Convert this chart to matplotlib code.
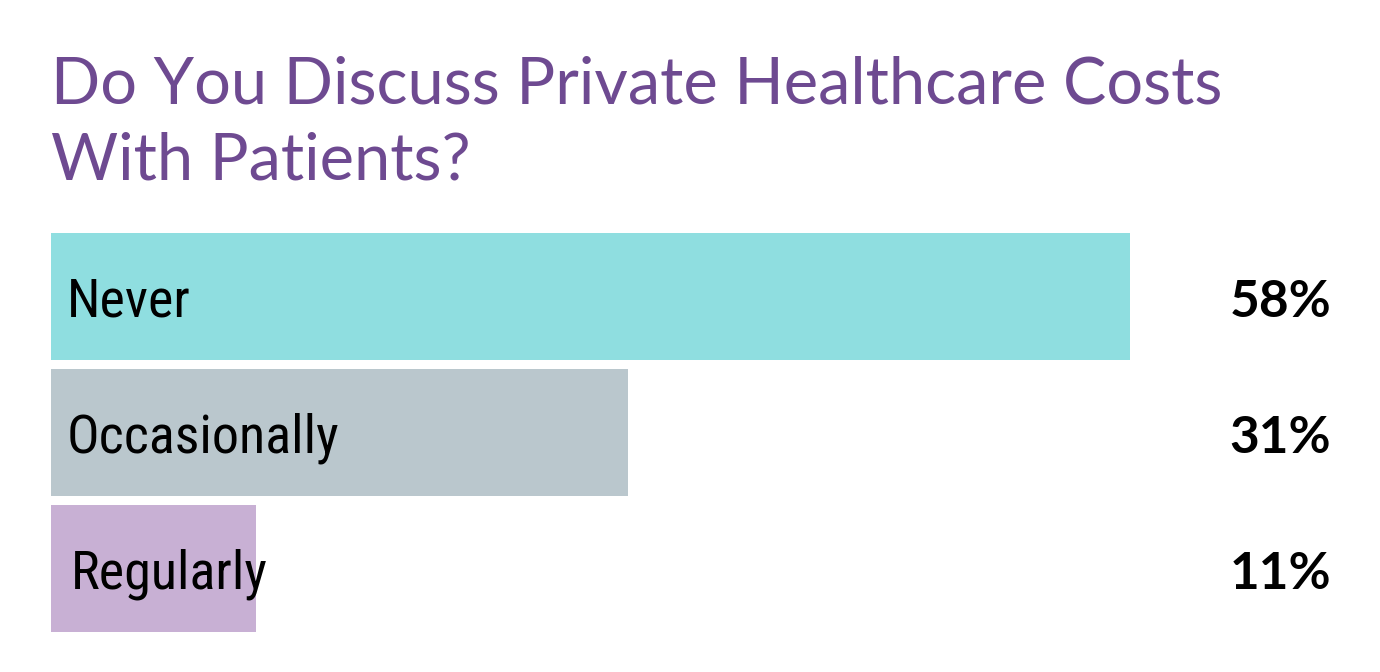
import matplotlib.pyplot as plt
from matplotlib.transforms import blended_transform_factory

categories = ['Never', 'Occasionally', 'Regularly']
values = [58, 31, 11]
colors = ['#8fdee0', '#bac7cd', '#c8b0d4']
title_lines = ['Do You Discuss Private Healthcare Costs', 'With Patients?']

narrow = ['Roboto Condensed', 'Liberation Sans Narrow', 'Open Sans Condensed',
          'Noto Sans Condensed', 'DejaVu Sans Condensed', 'Roboto']

fig = plt.figure(figsize=(13.8, 6.72), dpi=100)
ax = fig.add_axes([51 / 1380, 1 - 636.5 / 672, 1329 / 1380, 408 / 672])

ypos = list(range(len(categories)))
ax.barh(ypos, values, height=127 / 136, color=colors, left=0)
ax.set_xlim(0, 1329 / 18.6)
ax.set_ylim(2.5, -0.5)
ax.axis('off')

tr = blended_transform_factory(fig.transFigure, ax.transData)
for i, (cat, val) in enumerate(zip(categories, values)):
    x_lab = 16 / 18.6 if i < 2 else 20 / 18.6
    ax.text(x_lab, i + 0.15, cat, fontsize=39, family=narrow, fontstretch='condensed',
            color='black', va='baseline', ha='left')
    ax.text(1331 / 1380, i + 0.15, f'{val}%', fontsize=37, fontweight='bold',
            family=['Lato', 'DejaVu Sans'], color='black', va='baseline', ha='right',
            transform=tr)

for line, base in zip(title_lines, [103, 180]):
    fig.text(51 / 1380, 1 - base / 672, line, fontsize=46.7, fontweight='normal',
             family=['Lato', 'DejaVu Sans'],
             color='#6e4a91', va='baseline', ha='left')

fig.savefig('out.png', dpi=100)
